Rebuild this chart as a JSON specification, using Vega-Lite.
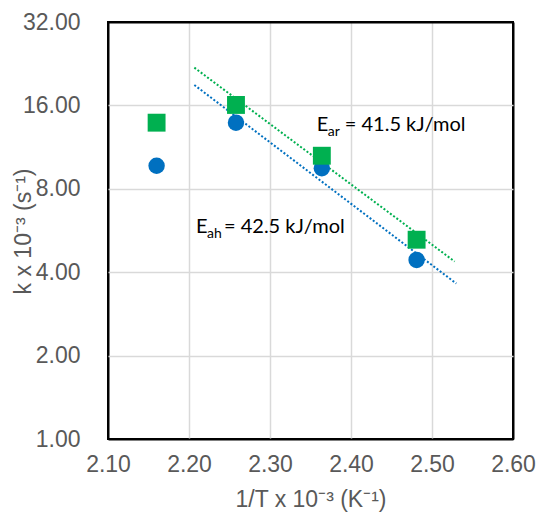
{
  "$schema": "https://vega.github.io/schema/vega-lite/v6.json",
  "width": 405,
  "height": 417,
  "autosize": {"type": "none"},
  "padding": {"left": 108, "top": 22, "right": 23, "bottom": 75},
  "background": "white",
  "view": {"stroke": "black", "strokeWidth": 2},
  "config": {
    "view": {"stroke": "black", "strokeWidth": 2},
    "axis": {
      "domain": false,
      "ticks": false,
      "labelFlush": false,
      "gridColor": "#d9d9d9",
      "gridWidth": 1.5,
      "labelColor": "#595959",
      "labelFont": "Liberation Sans",
      "labelFontSize": 23,
      "titleColor": "#595959",
      "titleFont": "Liberation Sans",
      "titleFontSize": 23,
      "titleFontWeight": "normal"
    }
  },
  "datasets": {
    "points": [
      {"series": "ah", "x": 2.160, "k": 9.69},
      {"series": "ah", "x": 2.258, "k": 13.86},
      {"series": "ah", "x": 2.364, "k": 9.49},
      {"series": "ah", "x": 2.481, "k": 4.43},
      {"series": "ar", "x": 2.160, "k": 13.86},
      {"series": "ar", "x": 2.258, "k": 16.06},
      {"series": "ar", "x": 2.364, "k": 10.53},
      {"series": "ar", "x": 2.481, "k": 5.24}
    ],
    "trend": [
      {"series": "ah", "x": 2.2066, "k": 18.96},
      {"series": "ah", "x": 2.530, "k": 3.64},
      {"series": "ar", "x": 2.2066, "k": 21.9},
      {"series": "ar", "x": 2.528, "k": 4.37}
    ],
    "labels": [
      {"series": "ah", "x": 2.2086, "k": 5.52, "main": "E", "sub": "ah", "rest": "= 42.5 kJ/mol"},
      {"series": "ar", "x": 2.3577, "k": 12.97, "main": "E", "sub": "ar", "rest": "= 41.5 kJ/mol"}
    ]
  },
  "encoding": {
    "x": {
      "field": "x",
      "type": "quantitative",
      "scale": {"domain": [2.1, 2.6], "zero": false, "nice": false},
      "axis": {
        "values": [2.1, 2.2, 2.3, 2.4, 2.5, 2.6],
        "format": ".2f",
        "labelPadding": 14,
        "gridColor": {"condition": {"test": "datum.value <= 2.1001 || datum.value >= 2.5999", "value": "black"}, "value": "#d9d9d9"},
        "gridWidth": {"condition": {"test": "datum.value <= 2.1001 || datum.value >= 2.5999", "value": 2}, "value": 1.5},
        "title": "1/T x 10⁻³ (K⁻¹)",
        "titleBaseline": "alphabetic",
        "titleY": 67
      }
    },
    "y": {
      "field": "k",
      "type": "quantitative",
      "scale": {"type": "log", "base": 2, "domain": [1, 32], "nice": false},
      "axis": {
        "values": [1, 2, 4, 8, 16, 32],
        "format": ".2f",
        "labelPadding": 28,
        "gridColor": {"condition": {"test": "datum.value <= 1.001 || datum.value >= 31.99", "value": "black"}, "value": "#d9d9d9"},
        "gridWidth": {"condition": {"test": "datum.value <= 1.001 || datum.value >= 31.99", "value": 2}, "value": 1.5},
        "title": "k x 10⁻³ (s⁻¹)",
        "titleX": -85,
        "titleY": 209,
        "titleAngle": -90,
        "titleAlign": "center",
        "titleBaseline": "middle"
      }
    }
  },
  "layer": [
    {
      "data": {"name": "trend"},
      "mark": {"type": "line", "strokeDash": [2, 2], "strokeWidth": 2},
      "encoding": {
        "detail": {"field": "series"},
        "color": {"field": "series", "type": "nominal", "scale": {"domain": ["ah", "ar"], "range": ["#0070C0", "#00B050"]}, "legend": null}
      }
    },
    {
      "data": {"name": "points"},
      "transform": [{"filter": "datum.series == 'ah'"}],
      "mark": {"type": "point", "shape": "circle", "filled": true, "size": 270, "color": "#0070C0", "opacity": 1}
    },
    {
      "data": {"name": "points"},
      "transform": [{"filter": "datum.series == 'ar'"}],
      "mark": {"type": "point", "shape": "square", "filled": true, "size": 320, "color": "#00B050", "opacity": 1}
    },
    {
      "data": {"name": "labels"},
      "mark": {"type": "text", "align": "left", "baseline": "alphabetic", "font": "Lato", "fontSize": 20, "color": "black"},
      "encoding": {"text": {"field": "main"}}
    },
    {
      "data": {"name": "labels"},
      "mark": {"type": "text", "align": "left", "baseline": "alphabetic", "font": "Lato", "fontSize": 14, "dx": 11, "dy": 5, "color": "black"},
      "encoding": {"text": {"field": "sub"}}
    },
    {
      "data": {"name": "labels"},
      "mark": {"type": "text", "align": "left", "baseline": "alphabetic", "font": "Lato", "fontSize": 20, "dx": 28, "color": "black"},
      "encoding": {"text": {"field": "rest"}}
    }
  ]
}
